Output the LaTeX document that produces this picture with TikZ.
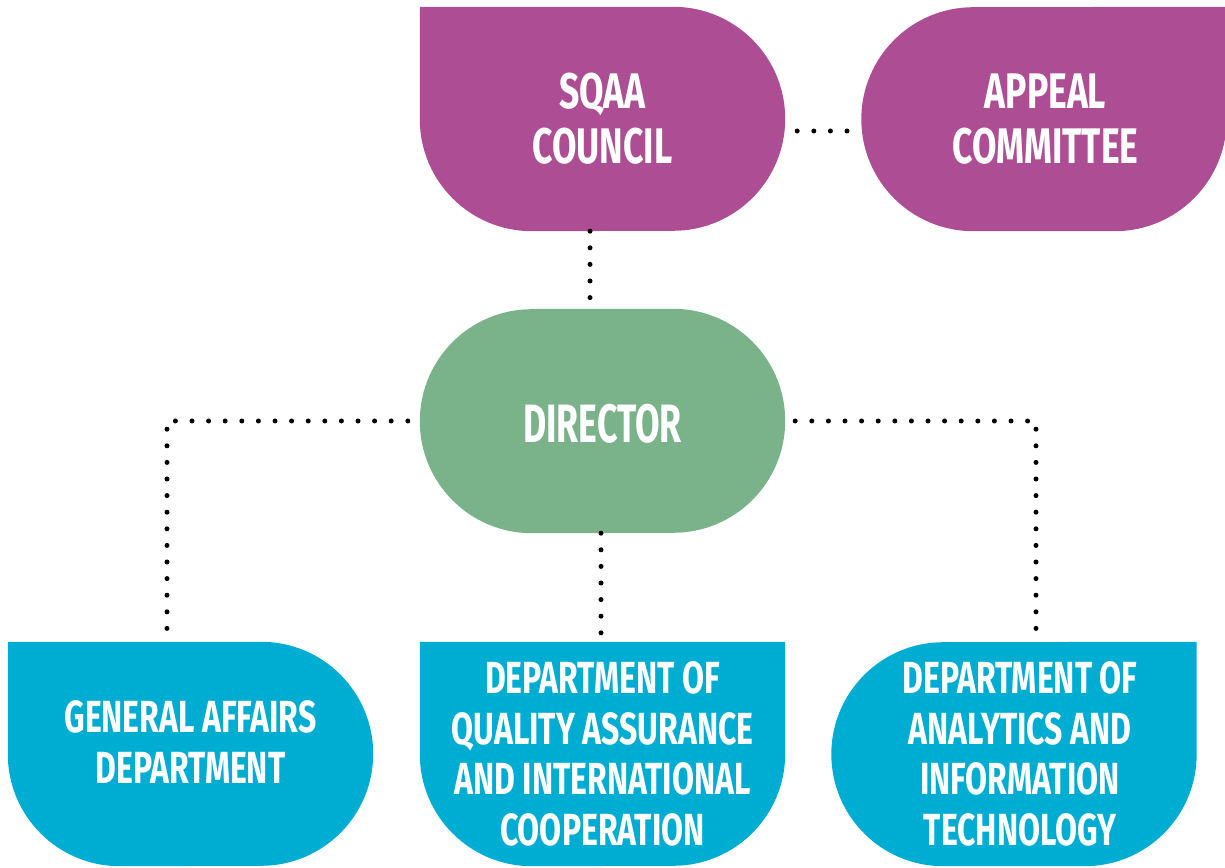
\documentclass[tikz,border=0pt]{standalone}
\usepackage{fontspec}
\newfontfamily\labfont{Fira Sans}[FakeStretch=0.71]
\newfontfamily\labfontnarrow{Fira Sans}[FakeStretch=0.66]
\usetikzlibrary{backgrounds,calc}
\definecolor{councilcol}{RGB}{173,77,148}
\definecolor{directorcol}{RGB}{122,179,138}
\definecolor{deptcol}{RGB}{0,173,210}
\tikzset{
  unit/.style={rectangle, minimum width=365pt, minimum height=224pt, inner sep=0pt},
  caption/.style={text=white, align=center, inner sep=0pt},
  bigtext/.style={font={\labfont\bfseries\fontsize{50}{55}\selectfont}},
  hugetext/.style={font={\labfontnarrow\bfseries\fontsize{54}{58}\selectfont}},
  smalltext/.style={font={\labfont\bfseries\fontsize{45}{50.5}\selectfont}},
  link/.style={line width=5pt, line cap=round, dash pattern=on 0pt off 16.6pt, black},
}
\begin{document}
\begin{tikzpicture}[x=1pt,y=1pt]
\useasboundingbox (0,0) rectangle (1225,867);

% boxes
\node[unit] (sqaa) at (602.5,748) {};
\node[unit] (appeal) at (1044,748) {};
\node[unit] (director) at (602.5,446) {};
\node[unit] (gen) at (190.5,113) {};
\node[unit] (mid) at (602.5,113) {};
\node[unit] (rdept) at (1014,113) {};

% captions
\node[caption, bigtext] (sqaatext) at (sqaa.center) {SQAA\\COUNCIL};
\node[caption, bigtext] (appealtext) at ([xshift=1.5]appeal.center) {APPEAL\\COMMITTEE};
\node[caption, hugetext] (directortext) at ([yshift=-3]director.center) {DIRECTOR};
\node[caption, smalltext] (gentext) at ([yshift=12]gen.center) {GENERAL AFFAIRS\\DEPARTMENT};
\node[caption, smalltext] (midtext) at (mid.center) {DEPARTMENT OF\\QUALITY ASSURANCE\\AND INTERNATIONAL\\COOPERATION};
\node[caption, smalltext] (rdepttext) at ([xshift=6]rdept.center) {DEPARTMENT OF\\ANALYTICS AND\\INFORMATION\\TECHNOLOGY};

% shaped fills behind the captions
\begin{scope}[on background layer]
  \fill[councilcol] (sqaa.north west) -- ($(sqaa.north east)+(-112,0)$)
    arc[start angle=90, end angle=-90, radius=112pt]
    -- ($(sqaa.south west)+(112,0)$)
    arc[start angle=270, end angle=180, radius=112pt] -- cycle;
  \fill[councilcol] (appeal.north east) -- ($(appeal.south east)+(0,112)$)
    arc[start angle=0, end angle=-90, radius=112pt]
    -- ($(appeal.south west)+(112,0)$)
    arc[start angle=270, end angle=90, radius=112pt] -- cycle;
  \fill[directorcol] ($(director.north west)+(112,0)$) -- ($(director.north east)+(-112,0)$)
    arc[start angle=90, end angle=-90, radius=112pt]
    -- ($(director.south west)+(112,0)$)
    arc[start angle=270, end angle=90, radius=112pt] -- cycle;
  \fill[deptcol] (gen.north west) -- ($(gen.north east)+(-112,0)$)
    arc[start angle=90, end angle=-90, radius=112pt]
    -- ($(gen.south west)+(112,0)$)
    arc[start angle=270, end angle=180, radius=112pt] -- cycle;
  \fill[deptcol] (mid.north west) -- (mid.north east) -- ($(mid.north east)+(0,-112)$)
    arc[start angle=0, end angle=-90, radius=112pt]
    -- ($(mid.south west)+(112,0)$)
    arc[start angle=270, end angle=180, radius=112pt] -- cycle;
  \fill[deptcol] (rdept.north east) -- ($(rdept.south east)+(0,112)$)
    arc[start angle=0, end angle=-90, radius=112pt]
    -- ($(rdept.south west)+(112,0)$)
    arc[start angle=270, end angle=90, radius=112pt] -- cycle;
\end{scope}

% dotted connectors
\draw[link] ([shift={(12,-12)}]sqaa.east) -- ([yshift=-12]appeal.west);
\draw[link] ([xshift=-12.5]sqaa.south) -- ([xshift=-12.5]director.north);
\draw[link] ([xshift=-12]director.west) -| ([xshift=-23.5]gen.north);
\draw[link] ([xshift=10]director.east) -| ([xshift=22]rdept.north);
\draw[link] ([xshift=-1.5]director.south) -- ([xshift=-1.5]mid.north);
\end{tikzpicture}
\end{document}
